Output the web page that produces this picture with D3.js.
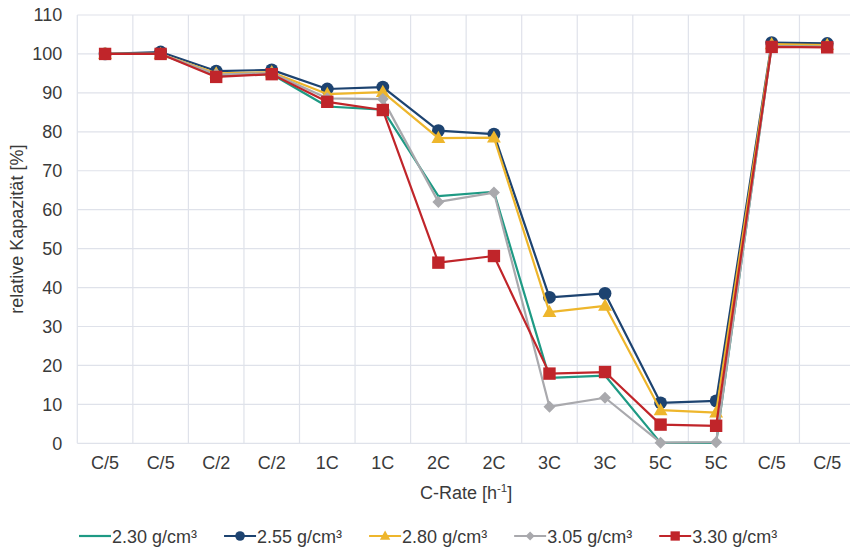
<!DOCTYPE html>
<html>
<head>
<meta charset="utf-8">
<script src="https://cdn.jsdelivr.net/npm/d3@7"></script>
<style>
  html, body { margin: 0; padding: 0; background: #fff; }
  svg { display: block; font-family: "Liberation Sans", Arial, sans-serif; }
</style>
</head>
<body>
<svg id="chart" width="850" height="547"></svg>
<script>
// C-rate steps of the rate test (each rate measured twice)
const rateLabels = ["C/5", "C/5", "C/2", "C/2", "1C", "1C", "2C", "2C", "3C", "3C", "5C", "5C", "C/5", "C/5"];
const yTicks = [0, 10, 20, 30, 40, 50, 60, 70, 80, 90, 100, 110];

// relative capacity [%] per electrode density
const density230 = [100, 100, 94.5, 94.8, 86.5, 85.7, 63.5, 64.6, 16.8, 17.4, 0.1, 0.1, 102.2, 102.0];
const density255 = [100, 100.5, 95.6, 95.9, 91.0, 91.5, 80.3, 79.4, 37.5, 38.5, 10.4, 10.9, 102.9, 102.7];
const density280 = [100, 100, 95.0, 95.3, 89.7, 90.2, 78.4, 78.5, 33.7, 35.3, 8.5, 7.9, 102.5, 102.3];
const density305 = [100, 100, 94.7, 95.1, 88.6, 88.4, 62.0, 64.4, 9.4, 11.7, 0.15, 0.3, 102.0, 101.9];
const density330 = [100, 100, 94.1, 94.8, 87.7, 85.6, 46.4, 48.1, 17.9, 18.3, 4.8, 4.5, 101.8, 101.7];

const seriesNames = ["2.30 g/cm³", "2.55 g/cm³", "2.80 g/cm³", "3.05 g/cm³", "3.30 g/cm³"];
const seriesValues = [density230, density255, density280, density305, density330];
const seriesColors = ["#1e9a84", "#1d4370", "#eeb62c", "#a9a9ad", "#c0252a"];
const seriesMarkers = ["none", "circle", "triangle", "diamond", "square"];

const svg = d3.select("#chart");
const margin = { left: 77.3, right: -5, top: 15, bottom: 103.7 };
const W = 850, H = 547;
const fontSize = 18;
const textColor = "#3a3a3a";

const x = d3.scaleBand()
  .domain(d3.range(rateLabels.length))
  .range([margin.left, W - margin.right])
  .padding(0);
const y = d3.scaleLinear()
  .domain([0, 110])
  .range([H - margin.bottom, margin.top]);

const grid = "#dfe2ea";

// horizontal grid lines
svg.append("g")
  .selectAll("line")
  .data(yTicks)
  .join("line")
  .attr("x1", margin.left).attr("x2", W - margin.right)
  .attr("y1", d => y(d)).attr("y2", d => y(d))
  .attr("stroke", grid).attr("stroke-width", 1.2);

// vertical grid lines at the category boundaries
svg.append("g")
  .selectAll("line")
  .data(d3.range(rateLabels.length + 1))
  .join("line")
  .attr("x1", i => i < rateLabels.length ? x(i) : x(i - 1) + x.bandwidth())
  .attr("x2", i => i < rateLabels.length ? x(i) : x(i - 1) + x.bandwidth())
  .attr("y1", y(0)).attr("y2", y(110))
  .attr("stroke", grid).attr("stroke-width", 1.2);

// y axis labels
const yAxis = d3.axisLeft(y).tickValues(yTicks).tickSize(0).tickPadding(15);
svg.append("g")
  .attr("transform", `translate(${margin.left},0)`)
  .call(yAxis)
  .call(g => g.select(".domain").remove())
  .call(g => g.selectAll("text").attr("font-size", fontSize).attr("fill", textColor)
    .attr("font-family", "Liberation Sans, Arial, sans-serif"));

// x axis labels
const xAxis = d3.axisBottom(x).tickFormat(i => rateLabels[i]).tickSize(0).tickPadding(13);
svg.append("g")
  .attr("transform", `translate(0,${y(0)})`)
  .call(xAxis)
  .call(g => g.select(".domain").remove())
  .call(g => g.selectAll("text").attr("font-size", fontSize).attr("fill", textColor)
    .attr("font-family", "Liberation Sans, Arial, sans-serif"));

// axis titles
const xTitle = svg.append("text")
  .attr("x", (margin.left + W - margin.right) / 2)
  .attr("y", 499)
  .attr("text-anchor", "middle")
  .attr("font-size", fontSize).attr("fill", textColor);
xTitle.append("tspan").text("C-Rate [h");
xTitle.append("tspan").text("-1").attr("font-size", 11.5).attr("dy", -7);
xTitle.append("tspan").text("]").attr("dy", 7);

svg.append("text")
  .attr("transform", `translate(23,${(y(0) + y(110)) / 2}) rotate(-90)`)
  .attr("text-anchor", "middle")
  .attr("font-size", fontSize).attr("fill", textColor)
  .text("relative Kapazität [%]");

// marker shapes
function markerPath(type, s) {
  if (type === "circle") return d3.symbol(d3.symbolCircle, Math.PI * s * s)();
  if (type === "square") { const h = s; return `M${-h},${-h}H${h}V${h}H${-h}Z`; }
  if (type === "triangle") return `M0,${-s * 1.1}L${s * 1.05},${s * 0.75}L${-s * 1.05},${s * 0.75}Z`;
  if (type === "diamond") return `M0,${-s}L${s},0L0,${s}L${-s},0Z`;
  return null;
}
const markerSize = { circle: 6.4, square: 6.2, triangle: 6.6, diamond: 6.0 };

const line = d3.line()
  .x((d, i) => x(i) + x.bandwidth() / 2)
  .y(d => y(d));

seriesValues.forEach((vals, k) => {
  const g = svg.append("g");
  g.append("path")
    .datum(vals)
    .attr("d", line)
    .attr("fill", "none")
    .attr("stroke", seriesColors[k])
    .attr("stroke-width", 2.2)
    .attr("stroke-linejoin", "round");
  const m = seriesMarkers[k];
  if (m !== "none") {
    g.selectAll("path.mk")
      .data(vals)
      .join("path")
      .attr("class", "mk")
      .attr("d", markerPath(m, markerSize[m]))
      .attr("transform", (d, i) => `translate(${x(i) + x.bandwidth() / 2},${y(d)})`)
      .attr("fill", seriesColors[k]);
  }
});

// legend
const legend = svg.append("g").attr("transform", "translate(79,536)");
let lx = 0;
seriesNames.forEach((name, k) => {
  const item = legend.append("g").attr("transform", `translate(${lx},0)`);
  item.append("line")
    .attr("x1", 0).attr("x2", 32).attr("y1", 0).attr("y2", 0)
    .attr("stroke", seriesColors[k]).attr("stroke-width", 2.2);
  const m = seriesMarkers[k];
  if (m !== "none") {
    item.append("path")
      .attr("d", markerPath(m, markerSize[m] * 0.75))
      .attr("transform", "translate(16,0)")
      .attr("fill", seriesColors[k]);
  }
  const t = item.append("text")
    .attr("x", 33).attr("y", 6.5)
    .attr("font-size", fontSize).attr("fill", textColor)
    .text(name);
  lx += 33 + t.node().getComputedTextLength() + 27;
});
</script>
</body>
</html>
